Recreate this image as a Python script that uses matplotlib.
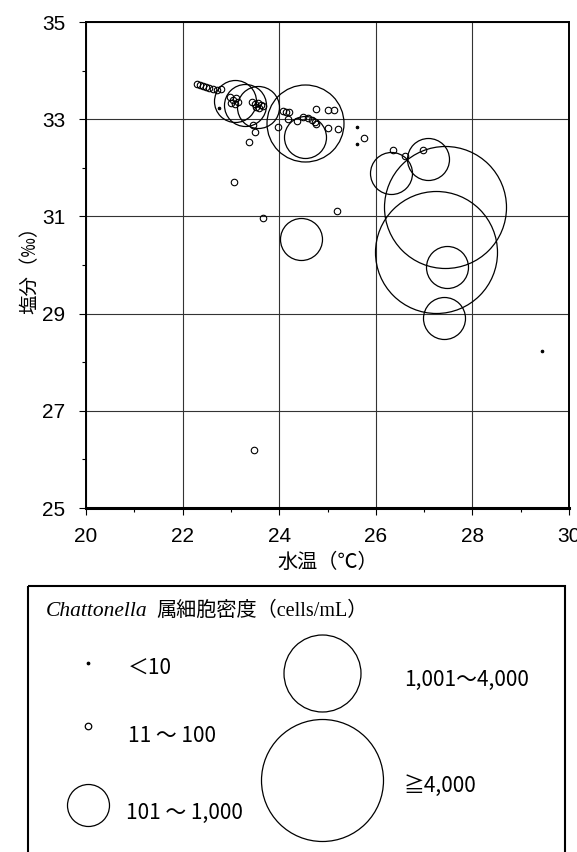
import matplotlib
matplotlib.use("Agg")
import matplotlib.pyplot as plt
from matplotlib.patches import Rectangle

# ----------------------------
# Data: water temperature (deg C) vs salinity (permil)
# grouped by Chattonella cell density class
# ----------------------------
tempLt10 = [22.75, 25.61, 25.61, 29.44]
salLt10 = [33.23, 32.84, 32.49, 28.23]

temp11to100 = [22.30, 22.36, 22.42, 22.48, 22.55, 22.63, 22.71, 22.80,
               22.98, 23.04, 23.11, 23.00, 23.08, 23.15,
               23.44, 23.50, 23.56, 23.62, 23.52, 23.58, 23.66,
               23.46, 23.50, 23.37, 23.98,
               24.08, 24.14, 24.20, 24.76, 25.01, 25.13,
               24.18, 24.37, 24.49, 24.60, 24.68, 24.74, 24.76,
               25.01, 25.22, 25.76, 26.36, 26.60, 26.98,
               23.07, 23.66, 25.20, 23.48]
sal11to100 = [33.72, 33.70, 33.68, 33.66, 33.64, 33.62, 33.60, 33.62,
              33.46, 33.40, 33.44, 33.33, 33.31, 33.36,
              33.35, 33.31, 33.33, 33.29, 33.25, 33.23, 33.27,
              32.88, 32.74, 32.53, 32.84,
              33.17, 33.15, 33.15, 33.21, 33.19, 33.19,
              33.00, 32.96, 33.04, 33.02, 32.98, 32.94, 32.90,
              32.82, 32.80, 32.61, 32.37, 32.24, 32.37,
              31.71, 30.97, 31.11, 26.19]

temp101to1000 = [23.08, 23.29, 23.56, 24.54, 24.45, 26.31, 27.08, 27.47, 27.41]
sal101to1000 = [33.37, 33.29, 33.25, 32.63, 30.53, 31.89, 32.18, 29.96, 28.91]

temp1001to4000 = [24.54]
sal1001to4000 = [32.93]

tempGe4000 = [27.43, 27.25]
salGe4000 = [31.19, 30.27]

classLabels = ["＜10", "11 ～ 100", "101 ～ 1,000", "1,001～4,000", "≧4,000"]

# marker diameters in pixels (figure is drawn at 100 dpi)
diamPx = [2.5, 6.5, 42, 77, 122]

cjk = ["Noto Sans CJK JP", "DejaVu Sans"]
serifCjk = ["Liberation Serif", "Noto Sans CJK JP", "DejaVu Sans"]
narrow = ["Liberation Sans Narrow", "Liberation Sans", "DejaVu Sans"]

fig = plt.figure(figsize=(5.77, 8.52), dpi=100)
ax = fig.add_axes([86 / 577, 1 - 508 / 852, (569 - 86) / 577, (508 - 22) / 852])

series = [
    (tempLt10, salLt10),
    (temp11to100, sal11to100),
    (temp101to1000, sal101to1000),
    (temp1001to4000, sal1001to4000),
    (tempGe4000, salGe4000),
]
for i, (xs, ys) in enumerate(series):
    filled = i == 0
    ax.plot(xs, ys, linestyle="none", marker="o",
            markersize=diamPx[i] * 0.72,
            markerfacecolor="black" if filled else "none",
            markeredgecolor="black",
            markeredgewidth=0.8 if i < 2 else 0.9,
            zorder=3)

ax.set_xlim(20, 30)
ax.set_ylim(25, 35)
ax.set_xticks(range(20, 31, 2))
ax.set_yticks(range(25, 36, 2))
ax.set_xticks(range(21, 30, 2), minor=True)
ax.set_yticks(range(26, 35, 2), minor=True)
ax.grid(True, which="major", color="#333333", linewidth=0.8)
ax.set_axisbelow(True)
for side in ["top", "right", "left"]:
    ax.spines[side].set_linewidth(1.4)
ax.spines["bottom"].set_linewidth(2.2)
ax.tick_params(which="major", direction="out", length=5, width=0.8,
               labelsize=15, labelfontfamily=narrow)
ax.tick_params(which="minor", direction="out", length=3, width=0.8)
ax.tick_params(axis="y", pad=10)
ax.tick_params(axis="x", pad=9)

ax.set_xlabel("水温（℃）", family=cjk, fontsize=14.5, labelpad=4)
ax.set_ylabel("塩分（‰）", family=cjk, fontsize=14, labelpad=1)

# ----------------------------
# Legend box drawn in pixel coordinates on an overlay axes
# ----------------------------
leg = fig.add_axes([0, 0, 1, 1])
leg.set_xlim(0, 577)
leg.set_ylim(852, 0)
leg.axis("off")
leg.add_patch(Rectangle((28, 586), 537, 280, fill=False, edgecolor="black",
                        linewidth=1.5, clip_on=False))

leg.text(46, 612, "Chattonella", family=["Liberation Serif"], style="italic",
         fontsize=15.5, va="center", ha="left")
leg.text(156, 611, "属細胞密度（cells/mL）", family=serifCjk, fontsize=14.5,
         va="center", ha="left")

legendSpots = [(88, 663), (88, 726), (88, 805), (322, 673), (322, 780)]
labelSpots = [(128, 668), (128, 736), (126, 813), (404, 680), (404, 786)]
for i, ((mx, my), (tx, ty)) in enumerate(zip(legendSpots, labelSpots)):
    leg.plot([mx], [my], linestyle="none", marker="o",
             markersize=diamPx[i] * 0.72,
             markerfacecolor="black" if i == 0 else "none",
             markeredgecolor="black", markeredgewidth=0.9)
    leg.text(tx, ty, classLabels[i], family=cjk, fontsize=15,
             va="center", ha="left")

fig.savefig("out.png", dpi=100)
